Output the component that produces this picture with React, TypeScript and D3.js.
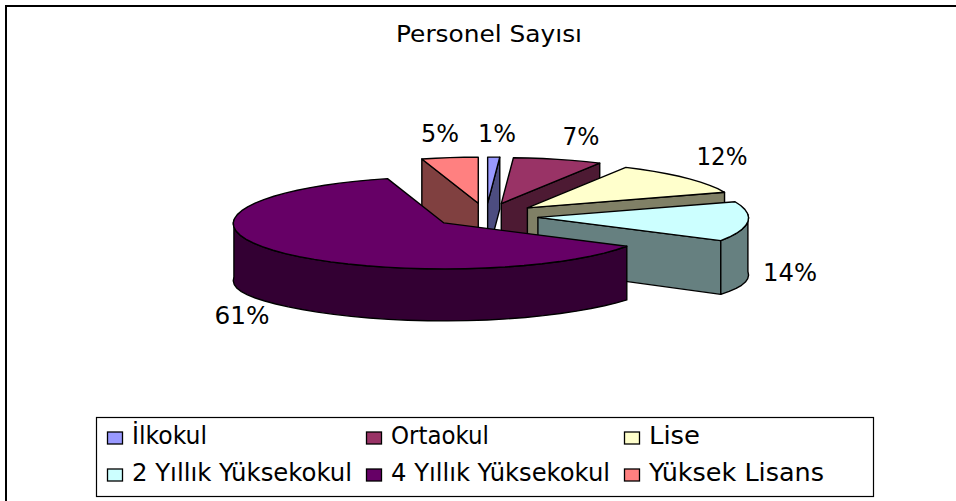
import React from "react";
import * as d3 from "d3";

const categories = ["İlkokul", "Ortaokul", "Lise", "2 Yıllık Yüksekokul", "4 Yıllık Yüksekokul", "Yüksek Lisans"];
const values = [1, 7.4, 12.1, 13.8, 61, 4.7];
const topColors = ["#9999FF", "#993366", "#FFFFCC", "#CCFFFF", "#660066", "#FF8080"];
const wallColors = ["#4D4D80", "#4D1A33", "#808066", "#668080", "#330033", "#804040"];
const labelLengths = [38, 37, 51, 54, 55, 38];
const legendLengths = [75, 98, 51, 220, 219, 175];

const W = 956, H = 501;
const cx = 486, cy = 215.5, rx = 210, ry = 46, depth = 52;
const explodeX = 0.25, explodeY = 0.27, persp = 0.08, sideLift = 3, sideDepth = 5;

const pieGen = d3.pie<number>().sort(null).startAngle(0).endAngle(2 * Math.PI);
const arcs = pieGen(values);

const labelPos: [number, number][] = [[497, 142], [581, 145], [722, 165], [790, 281], [242, 324], [440, 142]];
const legendX = [107, 366, 624];
const legendY = [438, 475];
const scaleX = d3.scaleLinear().domain([-1, 1]).range([-rx, rx]);
const scaleY = d3.scaleLinear().domain([-1, 1]).range([-ry, ry]);
const line = d3.line<[number, number]>();

function apex(mid: number): [number, number] {
  return [cx + explodeX * scaleX(Math.sin(mid)), cy - explodeY * scaleY(Math.cos(mid))];
}
function rim(a: [number, number], t: number, dz = 0): [number, number] {
  const k = 1 - persp * Math.cos(t);
  const s = Math.sin(t);
  const lift = sideLift * s * s;
  const extra = dz ? sideDepth * Math.pow(s, 6) : 0;
  return [a[0] + scaleX(s) * k, a[1] - scaleY(Math.cos(t)) - lift + dz + extra];
}
function samples(a: number, b: number): number[] {
  const n = Math.max(2, Math.ceil((b - a) / 0.09));
  return d3.range(n + 1).map((i) => a + ((b - a) * i) / n);
}

function Slice({ i }: { i: number }) {
  const { startAngle: a, endAngle: b } = arcs[i];
  const A = apex((a + b) / 2);
  const below: [number, number] = [A[0], A[1] + depth];
  const faces: [number, number][][] = [];
  if (Math.sin(a) < -1e-6) faces.push([A, rim(A, a), rim(A, a, depth), below]);
  if (Math.sin(b) > 1e-6) faces.push([A, rim(A, b), rim(A, b, depth), below]);
  const lo = Math.max(a, Math.PI / 2), hi = Math.min(b, (3 * Math.PI) / 2);
  const stroke = { stroke: "#000", strokeWidth: 1.4, strokeLinejoin: "round" as const };
  return (
    <g>
      {faces.map((f, k) => (
        <path key={k} d={line(f)! + "Z"} fill={wallColors[i]} {...stroke} />
      ))}
      {hi > lo && (
        <path
          d={line([...samples(lo, hi).map((t) => rim(A, t)), ...samples(lo, hi).reverse().map((t) => rim(A, t, depth))])! + "Z"}
          fill={wallColors[i]}
          {...stroke}
        />
      )}
      <path d={line([A, ...samples(a, b).map((t) => rim(A, t))])! + "Z"} fill={topColors[i]} {...stroke} />
    </g>
  );
}

const font = "'DejaVu Sans', sans-serif";

export default function App() {
  const order = [5, 0, 1, 2, 3, 4];
  return (
    <svg width={W} height={H} style={{ position: "absolute", left: 0, top: 0 }} fontFamily={font}>
      <rect x={0} y={0} width={W} height={H} fill="#fff" />
      <path d={`M6 ${H}V6H${W}`} fill="none" stroke="#000" strokeWidth={2} />
      <text x={489} y={42} textAnchor="middle" fontSize={23} textLength={186} lengthAdjust="spacingAndGlyphs">Personel Sayısı</text>
      {order.map((i) => <Slice key={i} i={i} />)}
      {categories.map((c, i) => (
        <text key={c} x={labelPos[i][0]} y={labelPos[i][1]} textAnchor="middle" fontSize={24} textLength={labelLengths[i]} lengthAdjust="spacingAndGlyphs" fill="#000">
          {`${Math.round(values[i])}%`}
        </text>
      ))}
      <rect x={96.5} y={417.5} width={777} height={79} fill="#fff" stroke="#000" strokeWidth={1.2} />
      {categories.map((c, i) => {
        const col = i % 3, row = Math.floor(i / 3);
        return (
          <g key={c}>
            <rect x={legendX[col] + 0.5} y={legendY[row] - 6} width={15} height={12} fill={topColors[i]} stroke="#000" strokeWidth={1.3} />
            <text x={legendX[col] + 25} y={legendY[row] + 6} fontSize={24} textLength={legendLengths[i]} lengthAdjust="spacingAndGlyphs">{c}</text>
          </g>
        );
      })}
    </svg>
  );
}
